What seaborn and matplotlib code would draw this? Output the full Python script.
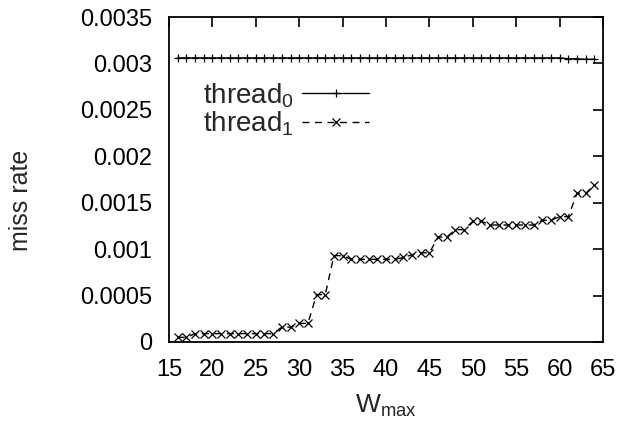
import numpy as np
import pandas as pd
import matplotlib
matplotlib.use("Agg")
import matplotlib.pyplot as plt
import seaborn as sns

# window sizes W_max
w_max = list(range(16, 65))

# miss rate of thread 0 (almost flat)
thread0 = [0.00306] * 44 + [0.00306, 0.00305, 0.00305, 0.003045, 0.003045]

# miss rate of thread 1
thread1 = [
    0.00005, 0.00005, 0.00009, 0.00009, 0.00009,   # 16-20
    0.00009, 0.00009, 0.00009, 0.00009, 0.00009,   # 21-25
    0.00009, 0.00009, 0.00016, 0.00016, 0.00020,   # 26-30
    0.00020, 0.00051, 0.00051, 0.00093, 0.00093,   # 31-35
    0.00089, 0.00089, 0.00089, 0.00089, 0.00089,   # 36-40
    0.00089, 0.00091, 0.00094, 0.00096, 0.00096,   # 41-45
    0.00113, 0.00113, 0.00121, 0.00121, 0.00130,   # 46-50
    0.00130, 0.00126, 0.00126, 0.00126, 0.00126,   # 51-55
    0.00126, 0.00126, 0.00131, 0.00131, 0.00135,   # 56-60
    0.00135, 0.00160, 0.00160, 0.00169,            # 61-64
]

series_names = [r"thread$_{\mathrm{0}}$", r"thread$_{\mathrm{1}}$"]

x_ticks = [15, 20, 25, 30, 35, 40, 45, 50, 55, 60, 65]
y_ticks = [0, 0.0005, 0.001, 0.0015, 0.002, 0.0025, 0.003, 0.0035]
y_tick_labels = ["0", "0.0005", "0.001", "0.0015", "0.002", "0.0025", "0.003", "0.0035"]

sns.set_style("white")
plt.rcParams['font.family'] = ['Liberation Sans', 'DejaVu Sans']
plt.rcParams['mathtext.fontset'] = 'custom'
plt.rcParams['mathtext.rm'] = 'Liberation Sans'
plt.rcParams['mathtext.it'] = 'Liberation Sans'

df = pd.DataFrame({
    "w": w_max * 2,
    "rate": thread0 + thread1,
    "thread": [series_names[0]] * len(w_max) + [series_names[1]] * len(w_max),
})

fig = plt.figure(figsize=(6.2, 4.22), dpi=100)
ax = fig.add_axes([0.2726, 0.1896, 0.7, 0.7701])

sns.lineplot(data=df, x="w", y="rate", hue="thread", style="thread", ax=ax,
             palette=["black", "black"],
             markers={series_names[0]: "+", series_names[1]: "x"},
             dashes={series_names[0]: "", series_names[1]: (5, 4)},
             linewidth=1.0, markersize=5.5, markeredgewidth=0.9,
             markeredgecolor="black")

ax.set_xlim(15, 65)
ax.set_ylim(0, 0.0035)
ax.set_xticks(x_ticks)
ax.set_yticks(y_ticks)
ax.set_yticklabels(y_tick_labels)
ax.tick_params(direction="in", length=7.2, width=1.2, labelsize=17,
               top=True, right=True, colors="black")
ax.tick_params(axis="x", pad=12)
ax.tick_params(axis="y", pad=12)
for s in ax.spines.values():
    s.set_linewidth(1.3)
    s.set_color("black")

ax.set_xlabel(r"W$_{\mathrm{max}}$", fontsize=19, labelpad=9)
ax.set_ylabel("miss rate", fontsize=18)
ax.yaxis.set_label_coords(-0.313, 0.437)

ax.legend(loc="upper left", bbox_to_anchor=(0.078, 0.803), frameon=False,
          markerfirst=False, fontsize=20, handlelength=2.4,
          labelspacing=0.0, handletextpad=0.3, borderpad=0,
          borderaxespad=0)

fig.savefig("out.png", dpi=100)
